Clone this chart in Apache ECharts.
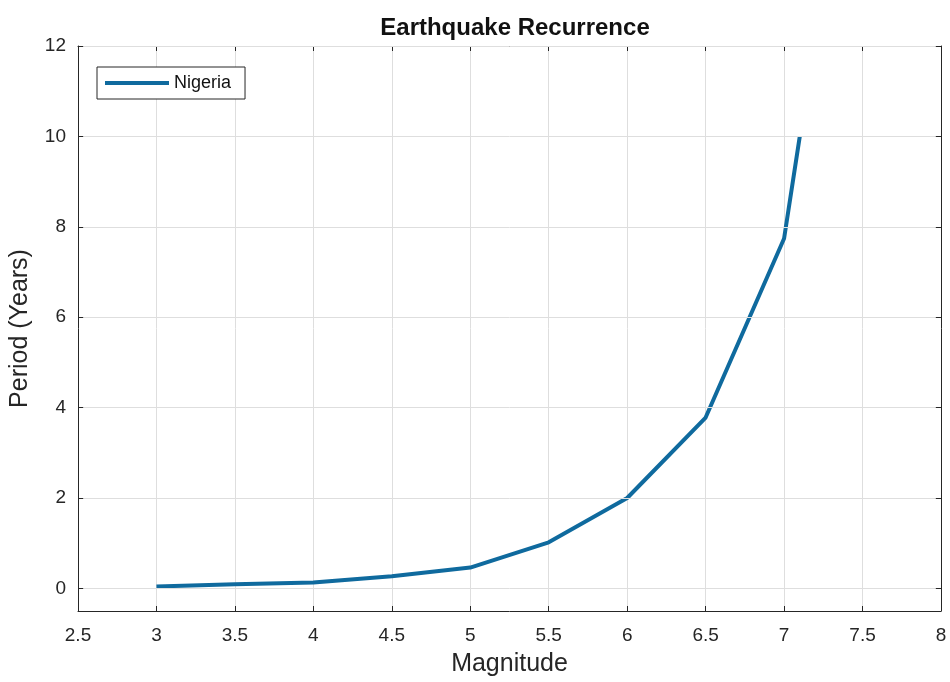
<!DOCTYPE html>
<html>
<head>
<meta charset="utf-8">
<script src="https://cdn.jsdelivr.net/npm/echarts@6/dist/echarts.min.js"></script>
<style>
html,body{margin:0;padding:0;background:#fff;}
#main{width:950px;height:682px;}
</style>
</head>
<body>
<div id="main"></div>
<script>
// 震级 / 重现期
var magnitude = [3, 3.5, 4, 4.5, 5, 5.5, 6, 6.5, 7, 7.1];
var period = [0.04, 0.09, 0.13, 0.27, 0.46, 1.02, 2.0, 3.78, 7.74, 10.0];
var seriesName = 'Nigeria';
var yTicks = [0, 2, 4, 6, 8, 10, 12];

var xMin = 2.5, xMax = 8, yMin = -0.5, yMax = 12;

var lineColor = '#0f6a9e';
var axisColor = '#262626';
var gridColor = '#dedede';
var font = 'Liberation Sans';

var points = magnitude.map(function (m, i) { return [m, period[i]]; });

// y轴网格线和刻度用markLine画（min=-0.5时interval会从min开始算）
var gridLines = yTicks.map(function (v) {
    return { yAxis: v, lineStyle: { color: gridColor, width: 1, type: 'solid' } };
});
var tickLen = 0.033;
var tickMarks = [];
yTicks.forEach(function (v) {
    tickMarks.push([{ coord: [xMin, v] }, { coord: [xMin + tickLen, v] }]);
    tickMarks.push([{ coord: [xMax - tickLen, v] }, { coord: [xMax, v] }]);
});

var myChart = echarts.init(document.getElementById('main'));

var option = {
    backgroundColor: '#fff',
    animation: false,
    title: {
        text: 'Earthquake Recurrence',
        left: 510,
        textAlign: 'center',
        top: 11,
        textStyle: { fontFamily: font, fontSize: 24, fontWeight: 'bold', color: '#111' }
    },
    legend: {
        data: [seriesName],
        left: 97,
        top: 67,
        borderColor: axisColor,
        borderWidth: 1,
        backgroundColor: '#fff',
        padding: [7, 14, 7, 8],
        itemWidth: 64,
        itemHeight: 4,
        icon: 'rect',
        textStyle: { fontFamily: font, fontSize: 18, color: '#111' }
    },
    grid: {
        left: 78,
        right: 9,
        top: 46,
        bottom: 71
    },
    xAxis: [
        {
            type: 'value',
            min: xMin,
            max: xMax,
            interval: 0.5,
            name: 'Magnitude',
            nameLocation: 'middle',
            nameGap: 41,
            nameTextStyle: { fontFamily: font, fontSize: 25, color: axisColor },
            axisLine: { show: true, onZero: false, lineStyle: { color: axisColor, width: 1 } },
            axisTick: { show: true, inside: true, length: 5, lineStyle: { color: axisColor } },
            axisLabel: { fontFamily: font, fontSize: 19, color: axisColor, margin: 15 },
            splitLine: { show: true, lineStyle: { color: gridColor, width: 1 } }
        },
        {
            type: 'value',
            position: 'top',
            min: xMin,
            max: xMax,
            interval: 0.5,
            axisLine: { show: true, onZero: false, lineStyle: { color: axisColor, width: 1 } },
            axisTick: { show: true, inside: true, length: 5, lineStyle: { color: axisColor } },
            axisLabel: { show: false },
            splitLine: { show: false }
        }
    ],
    yAxis: [
        {
            type: 'value',
            min: yMin,
            max: yMax,
            interval: 0.5,
            name: 'Period (Years)',
            nameLocation: 'middle',
            nameGap: 45,
            nameTextStyle: { fontFamily: font, fontSize: 25, color: axisColor },
            axisLine: { show: true, onZero: false, lineStyle: { color: axisColor, width: 1 } },
            axisTick: { show: false },
            axisLabel: {
                fontFamily: font, fontSize: 19, color: axisColor, margin: 12,
                formatter: function (v) { return yTicks.indexOf(v) >= 0 ? String(v) : ''; }
            },
            splitLine: { show: false }
        },
        {
            type: 'value',
            position: 'right',
            min: yMin,
            max: yMax,
            axisLine: { show: true, onZero: false, lineStyle: { color: axisColor, width: 1 } },
            axisTick: { show: false },
            axisLabel: { show: false },
            splitLine: { show: false }
        }
    ],
    series: [
        {
            name: 'grid',
            type: 'line',
            data: [],
            z: 1,
            silent: true,
            markLine: {
                silent: true,
                symbol: 'none',
                label: { show: false },
                animation: false,
                data: gridLines
            }
        },
        {
            name: 'ticks',
            type: 'line',
            data: [],
            z: 4,
            silent: true,
            markLine: {
                silent: true,
                symbol: 'none',
                label: { show: false },
                animation: false,
                lineStyle: { color: axisColor, width: 1, type: 'solid' },
                data: tickMarks
            }
        },
        {
            name: seriesName,
            type: 'line',
            data: points,
            showSymbol: false,
            symbol: 'none',
            z: 3,
            color: lineColor,
            lineStyle: { color: lineColor, width: 4 }
        }
    ]
};

myChart.setOption(option);
</script>
</body>
</html>
